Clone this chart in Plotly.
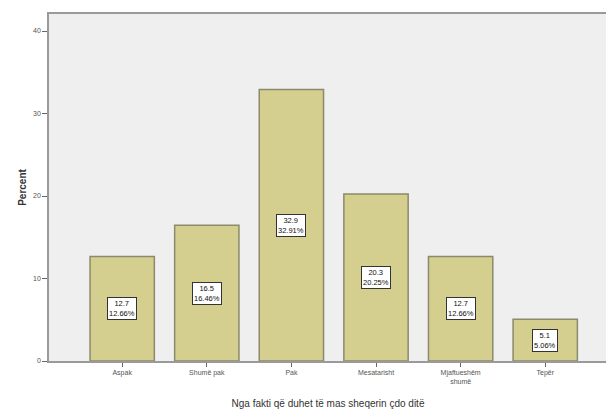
import plotly.graph_objects as go
from decimal import Decimal, ROUND_HALF_UP

categories = ["Aspak", "Shumë pak", "Pak", "Mesatarisht", "Mjaftueshëm<br>shumë", "Tepër"]
percent = [12.66, 16.46, 32.91, 20.25, 12.66, 5.06]
y_ticks = [0, 10, 20, 30, 40]

xs = list(range(len(categories)))


def r1(v):
    return str(Decimal(str(v)).quantize(Decimal("0.1"), rounding=ROUND_HALF_UP))


fig = go.Figure()
fig.add_trace(go.Bar(
    x=xs, y=percent, width=0.76,
    marker=dict(color="#d4ce8f", line=dict(color="#8c8a6c", width=1.5)),
    hoverinfo="skip", showlegend=False,
))

for x, v in zip(xs, percent):
    fig.add_annotation(
        x=x, y=v / 2, xref="x", yref="y",
        text=f"{r1(v)}<br>{v:.2f}%", showarrow=False,
        font=dict(family="Liberation Sans, Arial", size=7.5, color="#111"),
        bgcolor="white", bordercolor="#333", borderwidth=1, borderpad=1,
    )

# page body has an 8px default margin, so the figure is sized to fit the window
fig.update_layout(
    width=606, height=409,
    margin=dict(l=41, r=7, t=6, b=56),
    paper_bgcolor="white", plot_bgcolor="#efefef",
    font=dict(family="Liberation Sans, Arial", size=7, color="#444"),
    bargap=0.24,
)
fig.update_xaxes(
    range=[-0.865, 5.73], tickvals=xs, ticktext=categories,
    ticks="outside", ticklen=4, tickcolor="#666",
    showline=True, linecolor="#9a9a9a", linewidth=1.5, mirror=True,
    showgrid=False, zeroline=False, automargin=False,
    tickfont=dict(size=7, color="#555"),
    title=dict(text="Nga fakti që duhet të mas sheqerin çdo ditë",
               font=dict(size=10, color="#333"), standoff=16),
)
fig.update_yaxes(
    range=[0, 42.06], tickvals=y_ticks,
    ticks="outside", ticklen=5, tickcolor="#666",
    showline=True, linecolor="#9a9a9a", linewidth=1.5, mirror=True,
    showgrid=False, zeroline=False, automargin=False,
    tickfont=dict(size=7, color="#555"),
    title=dict(text="<b>Percent</b>", font=dict(size=10, color="#333"), standoff=5),
)

fig.write_html("out.html")
